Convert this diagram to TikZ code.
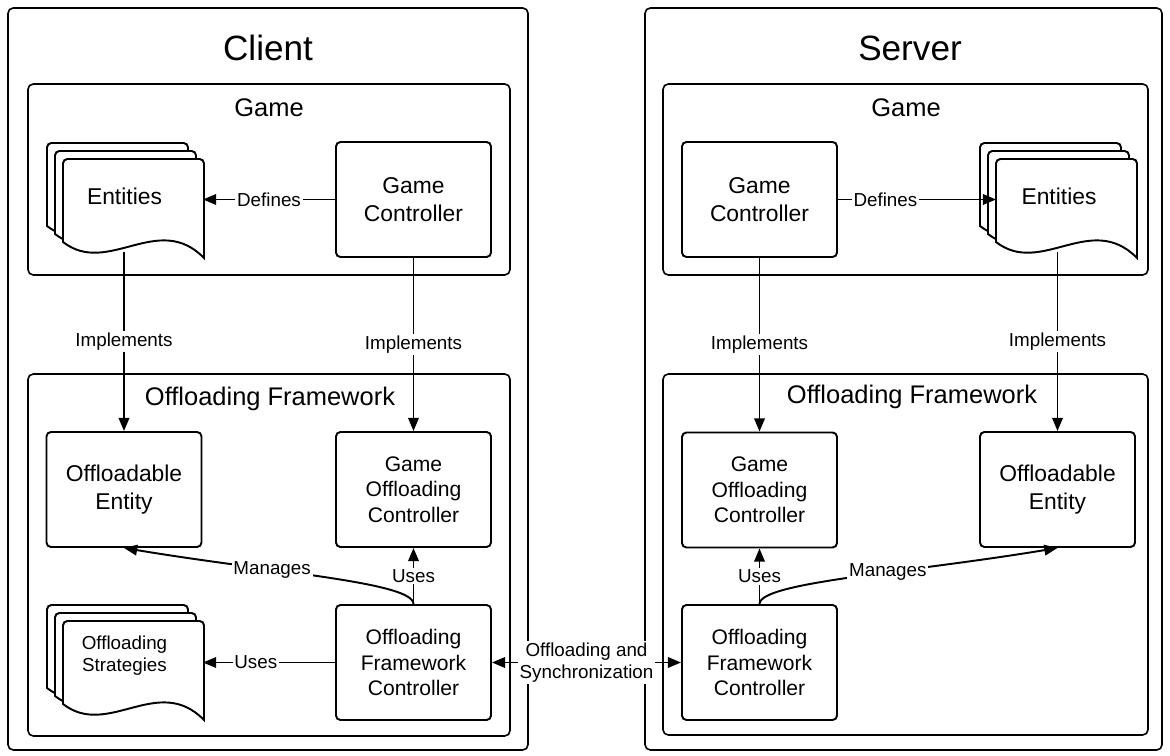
\documentclass[tikz,border=0pt]{standalone}
\usepackage{fontspec}
\setmainfont{Liberation Sans}
\usetikzlibrary{arrows.meta}

\newcommand{\headfont}{\fontsize{20}{24}\selectfont}
\newcommand{\framefont}{\fontsize{14.5}{17}\selectfont}
\newcommand{\boxfont}{\fontsize{13}{16}\selectfont}
\newcommand{\smallboxfont}{\fontsize{12}{14.5}\selectfont}
\newcommand{\edgefont}{\fontsize{10.7}{12.5}\selectfont}

\newcommand{\docsheet}[2]{\draw [sheet] (#1,#2+83) [rounded corners=2.5pt] -- (#1,#2) -- (#1+141,#2) -- (#1+141,#2+50) [sharp corners] -- (#1+141,#2+99) .. controls (#1+95,#2+52) and (#1+45,#2+118) .. (#1,#2+83) -- cycle;}
\newcommand{\docstack}[2]{\docsheet{#1-16}{#2-16}\docsheet{#1-8}{#2-8}\docsheet{#1}{#2}}

\begin{document}
\begin{tikzpicture}[x=0.02cm, y=-0.02cm,
		>={Triangle[length=7.5pt,width=6pt]},
		frame/.style={draw, line width=0.9pt, rounded corners=3pt},
		box/.style={draw, line width=1.1pt, rounded corners=2.5pt, minimum width=3.1cm, minimum height=2.3cm, align=center, font=\boxfont},
		sheet/.style={draw, line width=1.1pt, fill=white},
		lbl/.style={fill=white, inner sep=1pt, font=\edgefont},
		link/.style={line width=1.1pt}]
		\useasboundingbox (0,0) rectangle (1170,756);

		\draw [frame] (8,8) rectangle (528,750);
		\draw [frame] (28,84) rectangle (510,275);
		\draw [frame] (28,374) rectangle (510,736);
		\node [font=\headfont] (cHead) at (268,48) {Client};
		\node [font=\framefont] (cGame) at (269,108) {Game};
		\node [font=\framefont] (cFw) at (270,399) {Offloading Framework};

		\draw [frame] (645,8) rectangle (1162,750);
		\draw [frame] (663,84) rectangle (1148,275);
		\draw [frame] (663,374) rectangle (1148,735);
		\node [font=\headfont] (svHead) at (910,48) {Server};
		\node [font=\framefont] (svGame) at (906,108) {Game};
		\node [font=\framefont] (svFw) at (912,397) {Offloading Framework};

		\docstack{63}{159}
		\node [font=\boxfont] (cEnt) at (124.5,196) {Entities};
		\node [box] (cGC) at (413.5,199.5) {Game\\Controller};
		\node [box] (cOE) at (124,489.5) {Offloadable\\Entity};
		\node [box, font=\smallboxfont] (cGOC) at (413.5,489.5) {Game\\Offloading\\Controller};
		\docstack{63}{621}
		\node [font=\edgefont, align=center] (cStr) at (124.5,656) {Offloading\\Strategies};
		\node [box, font=\smallboxfont] (cOFC) at (413.5,662.5) {Offloading\\Framework\\Controller};

		\docstack{996}{159}
		\node [font=\boxfont] (svEnt) at (1059,196) {Entities};
		\node [box] (svGC) at (759.5,199.5) {Game\\Controller};
		\node [box, font=\smallboxfont] (svGOC) at (759.5,490) {Game\\Offloading\\Controller};
		\node [box] (svOE) at (1057.5,489.5) {Offloadable\\Entity};
		\node [box, font=\smallboxfont] (svOFC) at (759.5,662.5) {Offloading\\Framework\\Controller};

		\coordinate (cEntE) at (203,199.5);
		\coordinate (cEntB) at (124,252);
		\coordinate (cStrE) at (203,662.5);
		\coordinate (svEntW) at (996,199.5);
		\coordinate (svEntB) at (1057.5,252);

		\draw [link, ->] (cGC.west) -- (cEntE) node [lbl, midway] {Defines};
		\draw [link, ->] (cEntB) -- (cOE.north) node [lbl, midway] {Implements};
		\draw [link, ->] (cGC.south) -- (cGOC.north) node [lbl, midway] {Implements};
		\draw [link, ->] (cOFC.north) -- (cGOC.south) node [lbl, midway] {Uses};
		\draw [link, ->] (cOFC.north) .. controls +(0,-22) and +(150,25) .. (cOE.south) node [lbl, pos=0.65] {Manages};
		\draw [link, ->] (cOFC.west) -- (cStrE) node [lbl, pos=0.6] {Uses};

		\draw [link, ->] (svGC.east) -- (svEntW) node [lbl, pos=0.3] {Defines};
		\draw [link, ->] (svGC.south) -- (svGOC.north) node [lbl, midway] {Implements};
		\draw [link, ->] (svEntB) -- (svOE.north) node [lbl, midway] {Implements};
		\draw [link, ->] (svOFC.north) -- (svGOC.south) node [lbl, midway] {Uses};
		\draw [link, ->] (svOFC.north) .. controls +(0,-22) and +(-150,25) .. (svOE.south) node [lbl, pos=0.6] {Manages};

		\draw [link, <->] (cOFC.east) -- (svOFC.west) node [lbl, midway, align=center] {Offloading and\\Synchronization};
	\end{tikzpicture}
\end{document}
